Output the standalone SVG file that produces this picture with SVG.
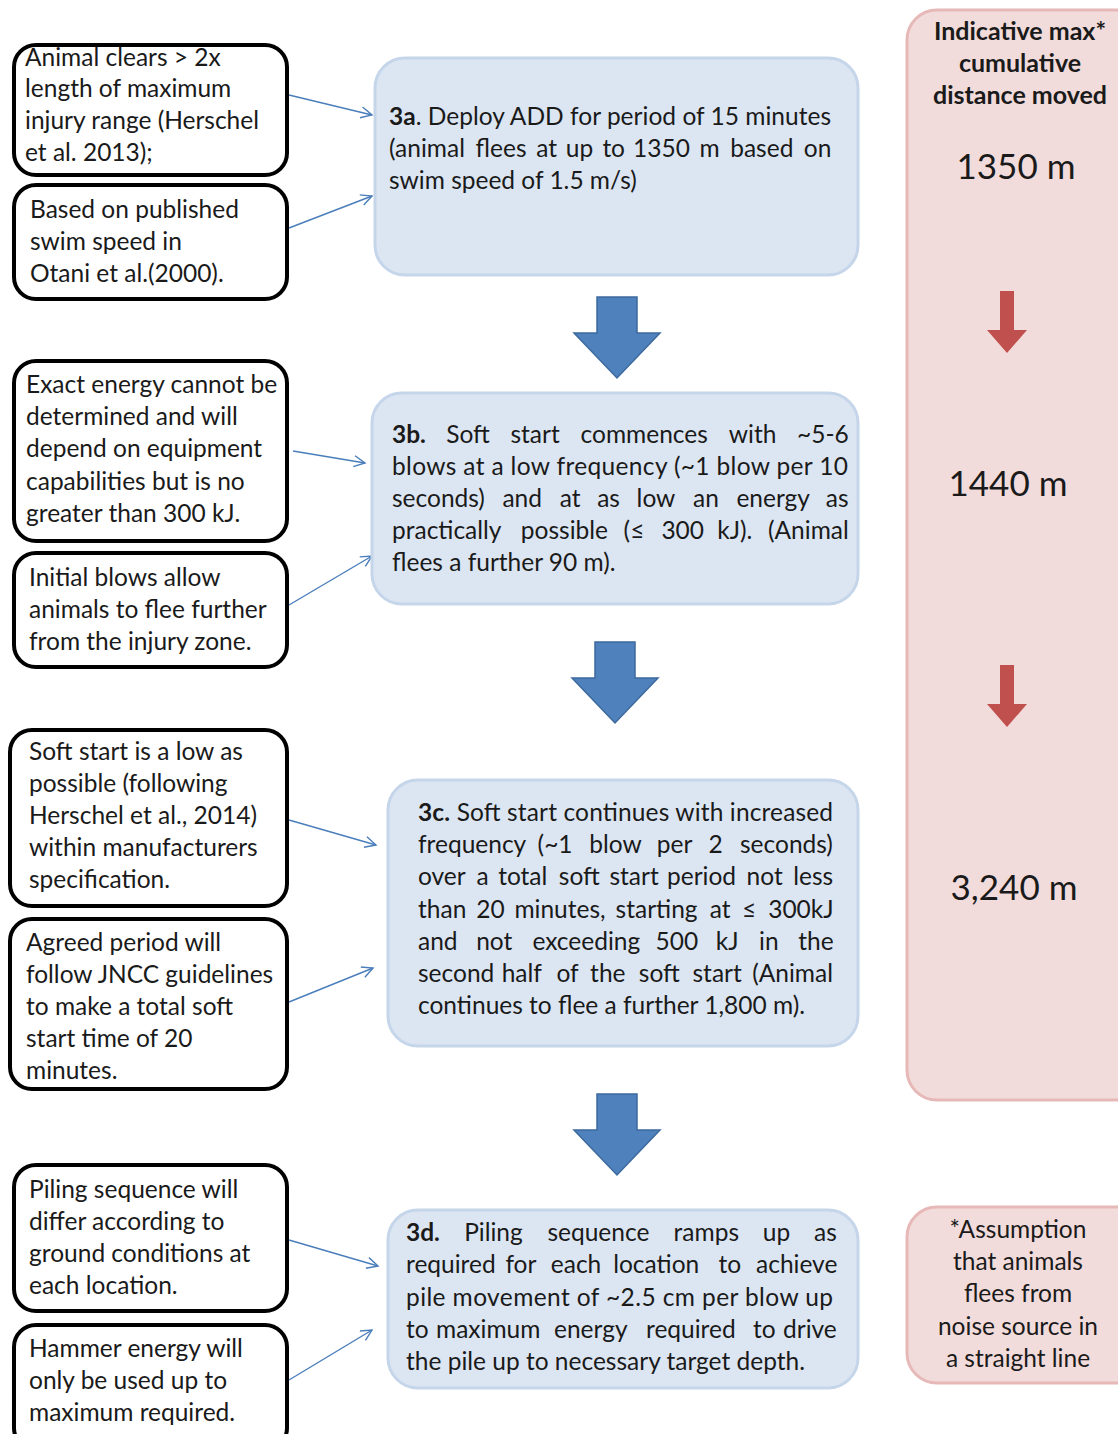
<svg xmlns="http://www.w3.org/2000/svg" width="1118" height="1434" viewBox="0 0 1118 1434">
<style>
.note rect{fill:#fff;stroke:#000;stroke-width:4}
.note text,.step text{font-family:Lato,"Liberation Sans",sans-serif;font-size:24.5px;fill:#1a1a1a}
.step rect{fill:#dce6f2;stroke:#c5d5ea;stroke-width:3}
.col rect{fill:#f2dcdb;stroke:#e6b9b8;stroke-width:3}
.col text{font-family:Lato,"Liberation Sans",sans-serif;fill:#1a1a1a;text-anchor:middle}
.b{font-weight:bold}
.conn{stroke:#4a7ebb;stroke-width:1.4;fill:none}
.big{fill:#4f81bd;stroke:#3d6a9e;stroke-width:1.5}
.red{fill:#c0504d}
</style>
<defs>
<marker id="ah" markerWidth="14" markerHeight="14" refX="12" refY="6" orient="auto" markerUnits="userSpaceOnUse">
<path d="M1,0.5 L12,6 L1,11.5" fill="none" stroke="#4a7ebb" stroke-width="1.4"/>
</marker>
<path id="bigArrow" d="M-20,0 H20 V36 H43 L0,81 L-43,36 H-20 Z"/>
<path id="redArrow" d="M-7,0 H7 V39 H20 L0,62 L-20,39 H-7 Z"/>
</defs>
<rect width="1118" height="1434" fill="#fff"/>

<g id="connectors">
<line class="conn" x1="289" y1="95" x2="372" y2="115" marker-end="url(#ah)"/>
<line class="conn" x1="289" y1="228" x2="372" y2="196" marker-end="url(#ah)"/>
<line class="conn" x1="293" y1="451" x2="365" y2="463" marker-end="url(#ah)"/>
<line class="conn" x1="289" y1="605" x2="372" y2="556" marker-end="url(#ah)"/>
<line class="conn" x1="289" y1="820" x2="376" y2="845" marker-end="url(#ah)"/>
<line class="conn" x1="289" y1="1002" x2="373" y2="968" marker-end="url(#ah)"/>
<line class="conn" x1="289" y1="1240" x2="378" y2="1266" marker-end="url(#ah)"/>
<line class="conn" x1="289" y1="1380" x2="372" y2="1330" marker-end="url(#ah)"/>
<use href="#bigArrow" class="big" transform="translate(617,297)"/>
<use href="#bigArrow" class="big" transform="translate(615,642)"/>
<use href="#bigArrow" class="big" transform="translate(617,1094)"/>
</g>

<g id="note-a1" class="note">
<rect x="14" y="45" width="273" height="130" rx="22"/>
<text x="25" y="66">Animal clears &gt; 2x</text>
<text x="25" y="97">length of maximum</text>
<text x="25" y="129">injury range (Herschel</text>
<text x="25" y="161">et al. 2013);</text>
</g>
<g id="note-a2" class="note">
<rect x="14" y="185" width="273" height="114" rx="22"/>
<text x="30" y="218">Based on published</text>
<text x="30" y="250">swim speed in</text>
<text x="30" y="282">Otani et al.(2000).</text>
</g>
<g id="note-b1" class="note">
<rect x="14" y="361" width="273" height="180" rx="22"/>
<text x="26" y="393">Exact energy cannot be</text>
<text x="26" y="425">determined  and will</text>
<text x="26" y="457">depend  on equipment</text>
<text x="26" y="490">capabilities but is no</text>
<text x="26" y="522">greater than 300 kJ.</text>
</g>
<g id="note-b2" class="note">
<rect x="14" y="553" width="273" height="114" rx="22"/>
<text x="29" y="586">Initial  blows allow</text>
<text x="29" y="618">animals to flee further</text>
<text x="29" y="650">from the injury zone.</text>
</g>
<g id="note-c1" class="note">
<rect x="10" y="730" width="277" height="176" rx="22"/>
<text x="29" y="760">Soft start is a low as</text>
<text x="29" y="792">possible (following</text>
<text x="29" y="824">Herschel et al., 2014)</text>
<text x="29" y="856">within manufacturers</text>
<text x="29" y="888">specification.</text>
</g>
<g id="note-c2" class="note">
<rect x="10" y="919" width="277" height="170" rx="22"/>
<text x="26" y="951">Agreed period  will</text>
<text x="26" y="983">follow JNCC guidelines</text>
<text x="26" y="1015">to make  a total soft</text>
<text x="26" y="1047">start time  of 20</text>
<text x="26" y="1079">minutes.</text>
</g>
<g id="note-d1" class="note">
<rect x="14" y="1165" width="273" height="146" rx="22"/>
<text x="29" y="1198">Piling sequence will</text>
<text x="29" y="1230">differ according to</text>
<text x="29" y="1262">ground  conditions at</text>
<text x="29" y="1294">each location.</text>
</g>
<g id="note-d2" class="note">
<rect x="14" y="1325" width="273" height="125" rx="22"/>
<text x="29" y="1357">Hammer energy will</text>
<text x="29" y="1389">only be used up to</text>
<text x="29" y="1421">maximum  required.</text>
</g>

<g id="step-3a" class="step">
<rect x="375" y="58" width="483" height="217" rx="30"/>
<text x="389" y="125" textLength="442" lengthAdjust="spacing"><tspan class="b">3a</tspan>. Deploy ADD for period of 15 minutes</text>
<text y="157"><tspan x="389">(animal</tspan><tspan x="475.6">flees</tspan><tspan x="536.2">at</tspan><tspan x="565.8">up</tspan><tspan x="602.4">to</tspan><tspan x="633">1350</tspan><tspan x="699.6">m</tspan><tspan x="730.2">based</tspan><tspan x="803.8">on</tspan></text>
<text x="389" y="189">swim speed of 1.5 m/s)</text>
</g>

<g id="step-3b" class="step">
<rect x="372" y="393" width="486" height="211" rx="30"/>
<text y="443"><tspan x="392" class="b">3b.</tspan><tspan x="446.2">Soft</tspan><tspan x="510.4">start</tspan><tspan x="580.6">commences</tspan><tspan x="728.8">with</tspan><tspan x="797">~5-6</tspan></text>
<text x="392" y="475" textLength="456" lengthAdjust="spacing">blows at a low frequency (~1 blow per 10</text>
<text y="507"><tspan x="392">seconds)</tspan><tspan x="502.4">and</tspan><tspan x="559.8">at</tspan><tspan x="597.2">as</tspan><tspan x="636.6">low</tspan><tspan x="693">an</tspan><tspan x="736.4">energy</tspan><tspan x="825.8">as</tspan></text>
<text y="539"><tspan x="392">practically</tspan><tspan x="520.8">possible</tspan><tspan x="623.6">(≤</tspan><tspan x="661.4">300</tspan><tspan x="717.2">kJ).</tspan><tspan x="768">(Animal</tspan></text>
<text x="392" y="571">flees a further 90 m).</text>
</g>

<g id="step-3c" class="step">
<rect x="388" y="780" width="470" height="266" rx="30"/>
<text x="418" y="821" textLength="415" lengthAdjust="spacing"><tspan class="b">3c.</tspan> Soft start continues with increased</text>
<text y="853"><tspan x="418">frequency</tspan><tspan x="537.6">(~1</tspan><tspan x="589.2">blow</tspan><tspan x="656.8">per</tspan><tspan x="708.4">2</tspan><tspan x="740">seconds)</tspan></text>
<text y="885"><tspan x="418">over</tspan><tspan x="476.6">a</tspan><tspan x="498.2">total</tspan><tspan x="558.8">soft</tspan><tspan x="609.4">start</tspan><tspan x="667">period</tspan><tspan x="746.6">not</tspan><tspan x="793.2">less</tspan></text>
<text y="918"><tspan x="418">than</tspan><tspan x="476.2">20</tspan><tspan x="514.4">minutes,</tspan><tspan x="615.6">starting</tspan><tspan x="709.8">at</tspan><tspan x="742">≤</tspan><tspan x="768.2">300kJ</tspan></text>
<text y="950"><tspan x="418">and</tspan><tspan x="476.2">not</tspan><tspan x="532.4">exceeding</tspan><tspan x="655.6">500</tspan><tspan x="715.8">kJ</tspan><tspan x="759">in</tspan><tspan x="798.2">the</tspan></text>
<text y="982"><tspan x="418">second</tspan><tspan x="501.7">half</tspan><tspan x="556.4">of</tspan><tspan x="590.1">the</tspan><tspan x="638.8">soft</tspan><tspan x="692.5">start</tspan><tspan x="752.2">(Animal</tspan></text>
<text x="418" y="1014">continues to flee a further 1,800 m).</text>
</g>

<g id="step-3d" class="step">
<rect x="388" y="1210" width="470" height="178" rx="30"/>
<text y="1241"><tspan x="406" class="b">3d.</tspan><tspan x="464.2">Piling</tspan><tspan x="547.4">sequence</tspan><tspan x="673.6">ramps</tspan><tspan x="762.8">up</tspan><tspan x="814">as</tspan></text>
<text y="1273"><tspan x="406">required</tspan><tspan x="505.4">for</tspan><tspan x="550.8">each</tspan><tspan x="613.2">location</tspan><tspan x="718.6">to</tspan><tspan x="756">achieve</tspan></text>
<text x="406" y="1306" textLength="427" lengthAdjust="spacing">pile movement of ~2.5 cm per blow up</text>
<text y="1338"><tspan x="406">to</tspan><tspan x="436">maximum</tspan><tspan x="554">energy</tspan><tspan x="646">required</tspan><tspan x="753">to</tspan><tspan x="783">drive</tspan></text>
<text x="406" y="1370">the pile up to necessary target depth.</text>
</g>

<g id="distance-column" class="col">
<rect x="907" y="10" width="240" height="1090" rx="30"/>
<text x="1020" y="40" class="b" font-size="25">Indicative max*</text>
<text x="1020" y="72" class="b" font-size="25">cumulative</text>
<text x="1020" y="104" class="b" font-size="25">distance moved</text>
<text x="1016" y="179" font-size="35">1350 m</text>
<use href="#redArrow" class="red" transform="translate(1007,291)"/>
<text x="1008" y="496" font-size="35">1440 m</text>
<use href="#redArrow" class="red" transform="translate(1007,665)"/>
<text x="1014" y="900" font-size="35">3,240 m</text>
</g>

<g id="assumption-note" class="col">
<rect x="907" y="1207" width="240" height="176" rx="30"/>
<text x="1018" y="1238" font-size="24.5">*Assumption</text>
<text x="1018" y="1270" font-size="24.5">that animals</text>
<text x="1018" y="1302" font-size="24.5">flees from</text>
<text x="1018" y="1335" font-size="24.5">noise source in</text>
<text x="1018" y="1367" font-size="24.5">a straight line</text>
</g>
</svg>
